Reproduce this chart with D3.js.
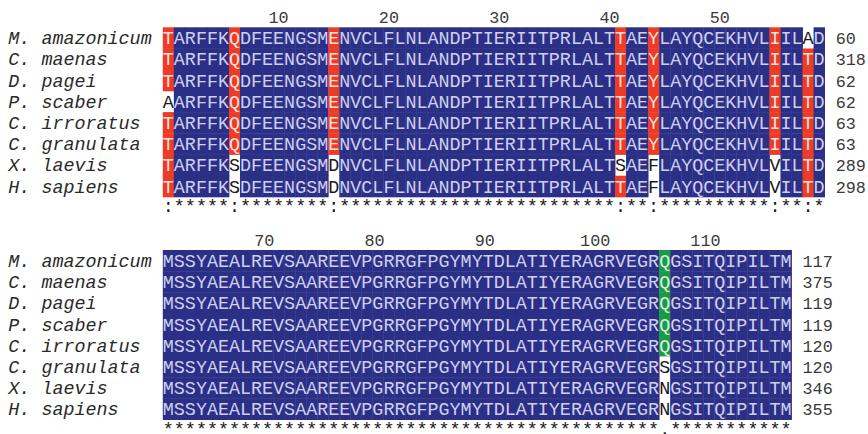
<!DOCTYPE html>
<html>
<head>
<meta charset="utf-8">
<script src="https://cdn.jsdelivr.net/npm/d3@7/dist/d3.min.js"></script>
<style>
  body { margin: 0; background: #fff; }
  text { font-family: "Courier New", "Liberation Mono", monospace; }
</style>
</head>
<body>
<svg id="chart" width="868" height="434"></svg>
<script>
// Multiple sequence alignment, two blocks of eight species
const species = ["M. amazonicum", "C. maenas", "D. pagei", "P. scaber",
                 "C. irroratus", "C. granulata", "X. laevis", "H. sapiens"];

const block1Seqs = [
  "TARFFKQDFEENGSMENVCLFLNLANDPTIERIITPRLALTTAEYLAYQCEKHVLIILAD",
  "TARFFKQDFEENGSMENVCLFLNLANDPTIERIITPRLALTTAEYLAYQCEKHVLIILTD",
  "TARFFKQDFEENGSMENVCLFLNLANDPTIERIITPRLALTTAEYLAYQCEKHVLIILTD",
  "AARFFKQDFEENGSMENVCLFLNLANDPTIERIITPRLALTTAEYLAYQCEKHVLIILTD",
  "TARFFKQDFEENGSMENVCLFLNLANDPTIERIITPRLALTTAEYLAYQCEKHVLIILTD",
  "TARFFKQDFEENGSMENVCLFLNLANDPTIERIITPRLALTTAEYLAYQCEKHVLIILTD",
  "TARFFKSDFEENGSMDNVCLFLNLANDPTIERIITPRLALTSAEFLAYQCEKHVLVILTD",
  "TARFFKSDFEENGSMDNVCLFLNLANDPTIERIITPRLALTTAEFLAYQCEKHVLVILTD"
];
const block1Ends = [60, 318, 62, 62, 63, 63, 289, 298];
const block1Ticks = [10, 20, 30, 40, 50];
const block1Conservation = ":*****:********:*************************:**:**********:**:*";

const block2Seqs = [
  "MSSYAEALREVSAAREEVPGRRGFPGYMYTDLATIYERAGRVEGRQGSITQIPILTM",
  "MSSYAEALREVSAAREEVPGRRGFPGYMYTDLATIYERAGRVEGRQGSITQIPILTM",
  "MSSYAEALREVSAAREEVPGRRGFPGYMYTDLATIYERAGRVEGRQGSITQIPILTM",
  "MSSYAEALREVSAAREEVPGRRGFPGYMYTDLATIYERAGRVEGRQGSITQIPILTM",
  "MSSYAEALREVSAAREEVPGRRGFPGYMYTDLATIYERAGRVEGRQGSITQIPILTM",
  "MSSYAEALREVSAAREEVPGRRGFPGYMYTDLATIYERAGRVEGRSGSITQIPILTM",
  "MSSYAEALREVSAAREEVPGRRGFPGYMYTDLATIYERAGRVEGRNGSITQIPILTM",
  "MSSYAEALREVSAAREEVPGRRGFPGYMYTDLATIYERAGRVEGRNGSITQIPILTM"
];
const block2Ends = [117, 375, 119, 119, 120, 120, 346, 355];
const block2Ticks = [70, 80, 90, 100, 110];
const block2Conservation = "*********************************************.***********";

// column index at which the ruler numbering of each block is anchored
const block1TickOrigin = 0;
const block2TickOrigin = 61.3;

const blocks = [
  { seqs: block1Seqs, ends: block1Ends, ticks: block1Ticks, cons: block1Conservation, tickOrigin: block1TickOrigin, top: 27.3 },
  { seqs: block2Seqs, ends: block2Ends, ticks: block2Ticks, cons: block2Conservation, tickOrigin: block2TickOrigin, top: 250 }
];

const COLORS = {
  identical: "#2b2f86",
  strong: "#ef3a26",
  weak: "#1b9a46",
  none: "#ffffff"
};
const TEXT_ON = {
  identical: "#cfcfee",
  strong: "#fde3dc",
  weak: "#d9f2dc",
  none: "#1a1a1a"
};

const svg = d3.select("#chart");
const cw = 11.03;      // column width
const rh = 21.2;       // row height
const x = d3.scaleLinear().domain([0, 1]).range([162.8, 162.8 + cw]);
const FONT = 18.4;

// classify every cell of a block from its column composition
function cellClass(seqs, cons, col, row) {
  const counts = d3.rollup(seqs, v => v.length, s => s[col]);
  if (counts.size === 1) return "identical";
  const major = d3.greatest(counts, d => d[1])[0];
  if (seqs[row][col] !== major) return "none";
  return cons[col] === "." ? "weak" : "strong";
}

blocks.forEach(b => {
  const g = svg.append("g").attr("transform", `translate(0,${b.top})`);
  const y = d3.scaleLinear().domain([0, 1]).range([0, rh]);
  const nCol = b.seqs[0].length;

  // ruler numbers
  g.selectAll("text.tick").data(b.ticks).join("text")
    .attr("class", "tick")
    .attr("x", d => x(d - b.tickOrigin) + cw / 2)
    .attr("y", -4)
    .attr("text-anchor", "middle")
    .attr("font-size", 16.8)
    .attr("fill", "#3a3a3a")
    .text(d => d);

  const cells = [];
  b.seqs.forEach((s, r) => {
    for (let c = 0; c < nCol; c++) {
      cells.push({ r, c, aa: s[c], cls: cellClass(b.seqs, b.cons, c, r) });
    }
  });

  // cell backgrounds
  g.selectAll("rect.cell").data(cells.filter(d => d.cls !== "none")).join("rect")
    .attr("class", "cell")
    .attr("x", d => x(d.c))
    .attr("y", d => y(d.r))
    .attr("width", cw + 0.4)
    .attr("height", rh + 0.4)
    .attr("fill", d => COLORS[d.cls]);

  // residues
  g.selectAll("text.aa").data(cells).join("text")
    .attr("class", "aa")
    .attr("x", d => x(d.c) + cw / 2)
    .attr("y", d => y(d.r) + 17)
    .attr("text-anchor", "middle")
    .attr("font-size", FONT)
    .attr("fill", d => TEXT_ON[d.cls])
    .text(d => d.aa);

  // species names
  g.selectAll("text.sp").data(species).join("text")
    .attr("class", "sp")
    .attr("x", 8.3)
    .attr("y", (d, i) => y(i) + 17)
    .attr("font-size", FONT)
    .attr("font-style", "italic")
    .attr("fill", "#2a2a2a")
    .attr("textLength", d => d.length * cw)
    .attr("lengthAdjust", "spacing")
    .text(d => d);

  // residue counts at the end of each row
  g.selectAll("text.end").data(b.ends).join("text")
    .attr("class", "end")
    .attr("x", x(nCol + 1))
    .attr("y", (d, i) => y(i) + 17)
    .attr("font-size", 16.8)
    .attr("fill", "#3a3a3a")
    .text(d => d);

  // conservation line
  g.selectAll("text.cons").data(b.cons.split("")).join("text")
    .attr("class", "cons")
    .attr("x", (d, i) => x(i) + cw / 2)
    .attr("y", y(8) + 15)
    .attr("text-anchor", "middle")
    .attr("font-size", FONT)
    .attr("fill", "#1a1a1a")
    .text(d => d);
});
</script>
</body>
</html>
